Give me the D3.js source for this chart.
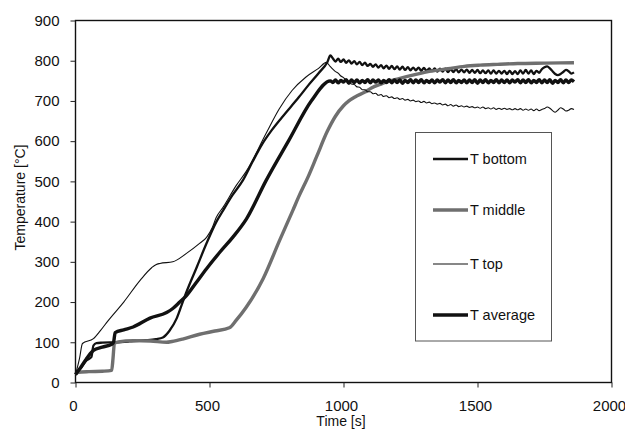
<!DOCTYPE html>
<html><head><meta charset="utf-8">
<script src="https://cdn.jsdelivr.net/npm/d3@7"></script>
<style>
html,body{margin:0;padding:0;background:#fff;}
svg{display:block;font-family:"Liberation Sans",Arial,sans-serif;}
</style></head>
<body><svg id="chart" width="625" height="439"></svg>
<script>
// ---------------- DATA ----------------
const xTicks = [0, 500, 1000, 1500, 2000];
const yTicks = [0, 100, 200, 300, 400, 500, 600, 700, 800, 900];
const seriesNames = ["T bottom", "T middle", "T top", "T average"];

// shared time grid of the oscillating tail (s)
const tailTime = [960,970,980,990,1000,1010,1020,1030,1040,1050,
  1060,1070,1080,1090,1100,1110,1120,1130,1140,1150,
  1160,1170,1180,1190,1200,1210,1220,1230,1240,1250,
  1260,1270,1280,1290,1300,1310,1320,1330,1340,1350,
  1360,1370,1380,1390,1400,1410,1420,1430,1440,1450,
  1460,1470,1480,1490,1500,1510,1520,1530,1540,1550,
  1560,1570,1580,1590,1600,1610,1620,1630,1640,1650,
  1660,1670,1680,1690,1700,1710,1720,1730,1740,1750,
  1760,1770,1780,1790,1800,1810,1820,1830,1840,1850,
  1860];

// T bottom
const bottomHeadTime = [0,20,41,59,67,78,100,150,200,260,300,326,350,378,400,414,452,489,526,551,585,625,660,696,733,770,833,870,907,940,951];
const bottomHeadTemp = [20,36,55,63,92,98,99,100,102,105,108,112,128,160,200,225,286,346,400,428,465,503,548,592,628,659,709,740,769,797,813];
const bottomTailTemp = [806,798,805,797,803,795,801,793,799,791,
  797,789,795,787,792,785,791,783,789,781,
  788,780,787,779,786,778,785,777,784,776,
  783,776,783,775,782,775,781,774,781,773,
  780,773,780,772,779,772,779,771,778,771,
  778,770,777,770,777,769,776,769,776,768,
  776,768,775,768,775,767,775,767,774,767,
  776,768,777,768,776,767,775,770,779,784,
  786,781,774,767,764,767,772,777,774,768,
  771];

// T middle
const middleTime = [0,10,50,100,135,140,145,160,215,280,340,360,400,463,520,574,600,637,700,762,811,833,867,900,940,970,1000,1020,1043,1080,1104,1140,1204,1270,1327,1390,1451,1510,1574,1650,1750,1860];
const middleTemp = [20,25,27,28,30,60,97,101,104,103,100,102,108,120,128,136,155,187,258,354,428,462,510,562,625,662,688,700,710,722,732,742,755,766,774,780,786,789,791,793,794,795];

// T top
const topHeadTime = [0,15,26,67,93,122,180,241,285,300,315,363,414,463,489,511,525,551,600,637,711,760,808,859,907,936,950];
const topHeadTemp = [20,60,97,109,129,154,200,254,286,293,296,300,321,346,361,386,410,436,490,525,619,680,726,759,781,796,786];
const topTailTemp = [779,773,769,762,758,751,748,742,741,735,
  734,728,728,723,723,718,719,714,716,711,
  713,708,710,706,708,704,706,702,704,700,
  702,698,700,696,699,695,697,693,695,692,
  694,690,692,688,691,687,690,686,688,685,
  687,684,686,683,685,682,685,681,683,680,
  683,679,682,679,682,679,681,678,681,678,
  681,677,680,677,680,676,680,676,679,681,
  685,682,676,672,677,683,680,675,677,681,
  679];

// T average
const averageHeadTime = [0,20,40,55,67,100,135,142,148,180,215,278,340,363,389,414,450,489,540,588,638,711,796,881,951];
const averageHeadTemp = [20,38,58,72,80,88,95,100,124,131,138,160,174,184,200,216,248,283,325,362,407,502,602,701,750];
const averageTailTemp = [746,752,745,751,747,753,744,752,746,752,
  745,751,746,753,745,752,747,752,745,751,
  746,753,745,752,746,752,744,751,746,753,
  745,752,746,753,745,751,746,752,745,752,
  747,753,745,752,746,753,745,751,746,752,
  745,752,746,753,744,752,746,753,745,751,
  746,753,745,752,746,752,745,752,747,753,
  745,752,746,753,745,751,746,753,745,752,
  746,753,744,751,746,753,745,752,746,752,
  748];

// ---------------- BUILD ----------------
const zip = (ts, vs) => ts.map((t, i) => ({t, v: vs[i]}));
const bottomData  = zip(bottomHeadTime.concat(tailTime), bottomHeadTemp.concat(bottomTailTemp));
const middleData  = zip(middleTime, middleTemp);
const topData     = zip(topHeadTime.concat(tailTime), topHeadTemp.concat(topTailTemp));
const averageData = zip(averageHeadTime.concat(tailTime), averageHeadTemp.concat(averageTailTemp));

const styles = {
  "T bottom":  {color: "#111", width: 2.3},
  "T middle":  {color: "#6f6f6f", width: 3.4},
  "T top":     {color: "#111", width: 1.1},
  "T average": {color: "#111", width: 3.4}
};
const seriesData = {"T bottom": bottomData, "T middle": middleData, "T top": topData, "T average": averageData};

const svg = d3.select("#chart");
const L = 75.5, R = 611.5, T = 20.5, B = 382.5;
const x = d3.scaleLinear().domain([0, 2000]).range([L, R]);
const y = d3.scaleLinear().domain([0, 900]).range([B, T]);

// frame
svg.append("rect").attr("x", L).attr("y", T).attr("width", R - L).attr("height", B - T)
  .attr("fill", "none").attr("stroke", "#111").attr("stroke-width", 1.4);

// axes
const yAxis = svg.append("g").attr("transform", `translate(${L},0)`)
  .call(d3.axisLeft(y).tickValues(yTicks).tickSize(5).tickPadding(11).tickFormat(d3.format("d")));
const xAxis = svg.append("g").attr("transform", `translate(0,${B})`)
  .call(d3.axisBottom(x).tickValues(xTicks).tickSize(5).tickPadding(13).tickFormat(d3.format("d")));
[yAxis, xAxis].forEach(g => {
  g.select(".domain").remove();
  g.selectAll(".tick line").attr("stroke", "#222").attr("stroke-width", 1);
  g.selectAll(".tick text").attr("fill", "#111").style("font-size", "15px")
    .style("font-family", "'Liberation Sans', Arial, sans-serif");
});
xAxis.selectAll(".tick text").attr("dx", -2.5);

// axis titles
svg.append("text").attr("x", 341).attr("y", 426).attr("text-anchor", "middle")
  .style("font-size", "14px").attr("fill", "#111").text("Time [s]");
svg.append("text").attr("transform", "translate(25,197.5) rotate(-90)").attr("text-anchor", "middle")
  .style("font-size", "14px").attr("fill", "#111").text("Temperature [°C]");

// lines
const line = d3.line().x(d => x(d.t)).y(d => y(d.v)).curve(d3.curveMonotoneX);
seriesNames.forEach(name => {
  svg.append("path").datum(seriesData[name])
    .attr("fill", "none").attr("stroke", styles[name].color)
    .attr("stroke-width", styles[name].width).attr("stroke-linejoin", "round")
    .attr("d", line);
});

// legend
const lg = svg.append("g");
lg.append("rect").attr("x", 415.5).attr("y", 132.5).attr("width", 136).attr("height", 208.5)
  .attr("fill", "#fff").attr("stroke", "#555").attr("stroke-width", 1);
const legendY = [159, 210, 264, 315];
seriesNames.forEach((name, i) => {
  lg.append("line").attr("x1", 433).attr("x2", 468).attr("y1", legendY[i]).attr("y2", legendY[i])
    .attr("stroke", styles[name].color).attr("stroke-width", styles[name].width);
  lg.append("text").attr("x", 470).attr("y", legendY[i] + 5.3)
    .style("font-size", "14.5px").attr("fill", "#111").text(name);
});
</script></body></html>
